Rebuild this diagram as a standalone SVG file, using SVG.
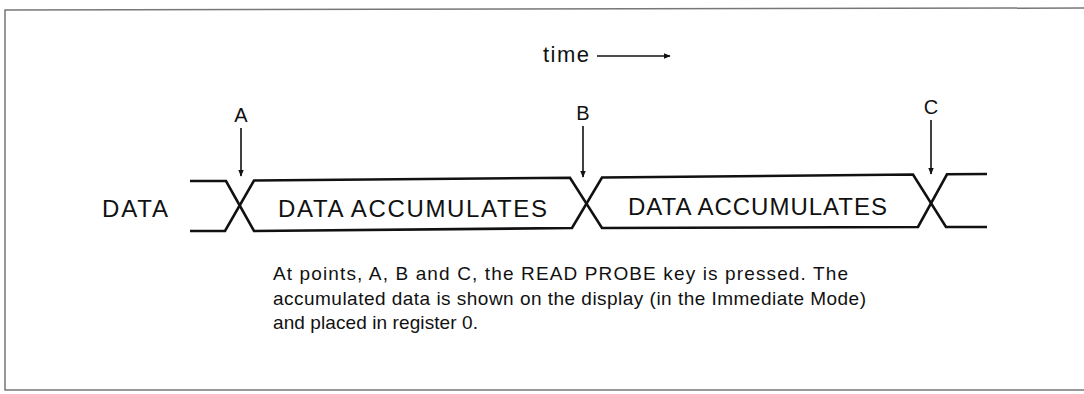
<svg xmlns="http://www.w3.org/2000/svg" width="1084" height="394" viewBox="0 0 1084 394">
<defs>
<marker id="ah" viewBox="0 0 10 10" refX="9" refY="5" markerWidth="7" markerHeight="7" markerUnits="userSpaceOnUse" orient="auto">
<path d="M0,1 L10,5 L0,9 Z" fill="#111"/>
</marker>
<style>
.t{font-family:"Liberation Sans",Arial,sans-serif;fill:#111}
.big{font-size:24px}
.lbl{font-size:20px}
.par{font-size:19px}
.wave{fill:none;stroke:#111;stroke-width:2.6;stroke-linejoin:miter}
.probe{stroke:#111;stroke-width:1.6;fill:none}
.frame{stroke:#777;stroke-width:1.5;fill:none}
</style>
</defs>
<rect width="1084" height="394" fill="#fff"/>
<g id="frame">
<path class="frame" d="M1084,8 L5,10 L5,390 L1084,390"/>
</g>
<g id="time">
<text class="t" font-size="22" x="543" y="62" textLength="46" lengthAdjust="spacing">time</text>
<line class="probe" x1="597" y1="56" x2="670" y2="56" stroke-width="2" marker-end="url(#ah)"/>
</g>
<g id="data-label">
<text class="t big" x="102" y="217" textLength="66" lengthAdjust="spacing">DATA</text>
</g>
<g id="signal">
<path class="wave" d="M190,181 L226,181 L254,231 L572,228 L602,177.5 L913,174.5 L946,227 L987,227"/>
<path class="wave" d="M190,231 L225,231 L254,180.5 L570,177.7 L602,228 L918,227 L947,174.3 L987,174"/>
<text class="t big" x="278" y="217" textLength="269" lengthAdjust="spacing">DATA ACCUMULATES</text>
<text class="t big" x="628" y="215" textLength="259" lengthAdjust="spacing">DATA ACCUMULATES</text>
</g>
<g id="point-A">
<text class="t lbl" x="241" y="122" text-anchor="middle">A</text>
<line class="probe" x1="241" y1="128" x2="241" y2="176" marker-end="url(#ah)"/>
</g>
<g id="point-B">
<text class="t lbl" x="583" y="120" text-anchor="middle">B</text>
<line class="probe" x1="583" y1="126" x2="583" y2="177" marker-end="url(#ah)"/>
</g>
<g id="point-C">
<text class="t lbl" x="931" y="114" text-anchor="middle">C</text>
<line class="probe" x1="931" y1="120" x2="931" y2="174" marker-end="url(#ah)"/>
</g>
<g id="caption">
<text class="t par" x="273" y="280" textLength="575" lengthAdjust="spacing">At points, A, B and C, the READ PROBE key is pressed. The</text>
<text class="t par" x="273" y="305" textLength="593" lengthAdjust="spacing">accumulated data is shown on the display (in the Immediate Mode)</text>
<text class="t par" x="273" y="329" textLength="205" lengthAdjust="spacing">and placed in register 0.</text>
</g>
</svg>
